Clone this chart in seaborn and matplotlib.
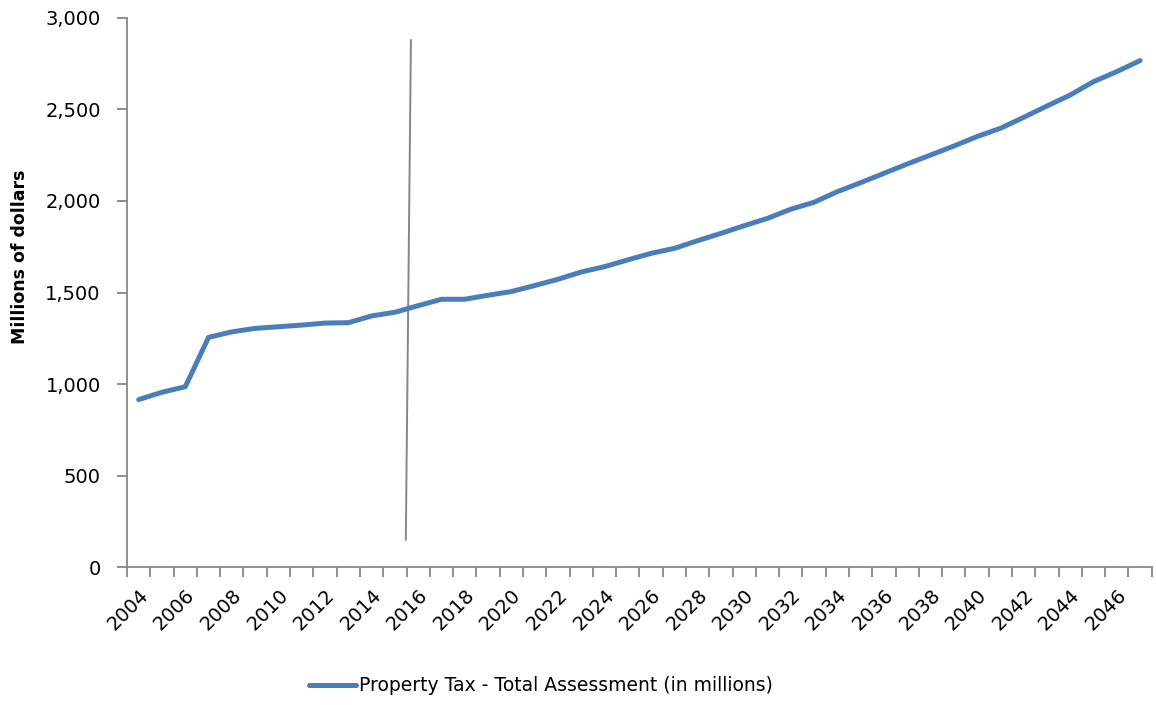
import numpy as np
import pandas as pd
import matplotlib
matplotlib.use("Agg")
import matplotlib.pyplot as plt
import matplotlib.transforms as mtransforms
import seaborn as sns

# Fiscal years and total assessed value (millions of dollars)
years = list(range(2004, 2048))
assessment = [
    915, 955, 985, 1255, 1285, 1304, 1313, 1322, 1333, 1335,
    1372, 1392, 1428, 1463, 1463, 1485, 1505, 1538, 1572, 1612,
    1641, 1678, 1714, 1741, 1783, 1823, 1865, 1905, 1955, 1993,
    2051, 2100, 2151, 2202, 2251, 2300, 2352, 2397, 2457, 2519,
    2579, 2652, 2707, 2767,
]
series_name = "Property Tax - Total Assessment (in millions)"
y_ticks = [0, 500, 1000, 1500, 2000, 2500, 3000]

# Divider separating actuals from projections (category position, value)
divider_x = [11.69, 11.47]
divider_y = [2880, 148]

sns.set_style("white")
plt.rcParams["font.family"] = ["DejaVu Sans"]
plt.rcParams["text.color"] = "black"

df = pd.DataFrame({"pos": np.arange(len(years)), "value": assessment,
                   "series": series_name})

fig = plt.figure(figsize=(11.56, 7.05), dpi=100)
ax = fig.add_axes([0.1099, 0.1957, 0.8864, 0.7788])

sns.lineplot(data=df, x="pos", y="value", hue="series",
             palette=["#4a7ebb"], linewidth=3.6, ax=ax,
             solid_capstyle="round", solid_joinstyle="round")

ax.plot(divider_x, divider_y, color="#868686", linewidth=1.4, zorder=1)

ax.set_xlim(-0.5, len(years) - 0.5)
ax.set_ylim(0, 3000)

axis_gray = "#868686"
for side in ["top", "right"]:
    ax.spines[side].set_visible(False)
for side in ["left", "bottom"]:
    ax.spines[side].set_color(axis_gray)
    ax.spines[side].set_linewidth(1.3)

ax.set_yticks(y_ticks)
ax.set_yticklabels([f"{v:,}" for v in y_ticks])

# Category boundaries get tick marks; labels sit at every other category centre
ax.set_xticks(np.arange(-0.5, len(years), 1.0), minor=True)
label_pos = [i for i, y in enumerate(years) if y % 2 == 0]
ax.set_xticks(label_pos)
ax.set_xticklabels([str(years[i]) for i in label_pos], rotation=45,
                   ha="right", rotation_mode="anchor")
shift = mtransforms.ScaledTranslation(-0.05, -0.03, fig.dpi_scale_trans)
for lbl in ax.get_xticklabels():
    lbl.set_transform(lbl.get_transform() + shift)

ax.tick_params(axis="x", which="major", length=0, pad=13, labelsize=14,
               labelcolor="black", bottom=False)
ax.tick_params(axis="x", which="minor", length=7, width=1.3, color=axis_gray,
               direction="out", bottom=True)
ax.tick_params(axis="y", which="major", left=True, length=7, width=1.3,
               color=axis_gray, direction="out", labelsize=14,
               labelcolor="black", pad=12)

ax.set_xlabel("")
ax.set_ylabel("Millions of dollars", fontsize=12.5, fontweight="bold",
              color="black")
ax.yaxis.set_label_coords(-0.096, 0.565)

ax.legend(loc="center", bbox_to_anchor=(0.468, 0.027),
          bbox_transform=fig.transFigure, frameon=False, fontsize=13.5,
          handlelength=2.5, handletextpad=0.2)

fig.savefig("out.png", dpi=100)
